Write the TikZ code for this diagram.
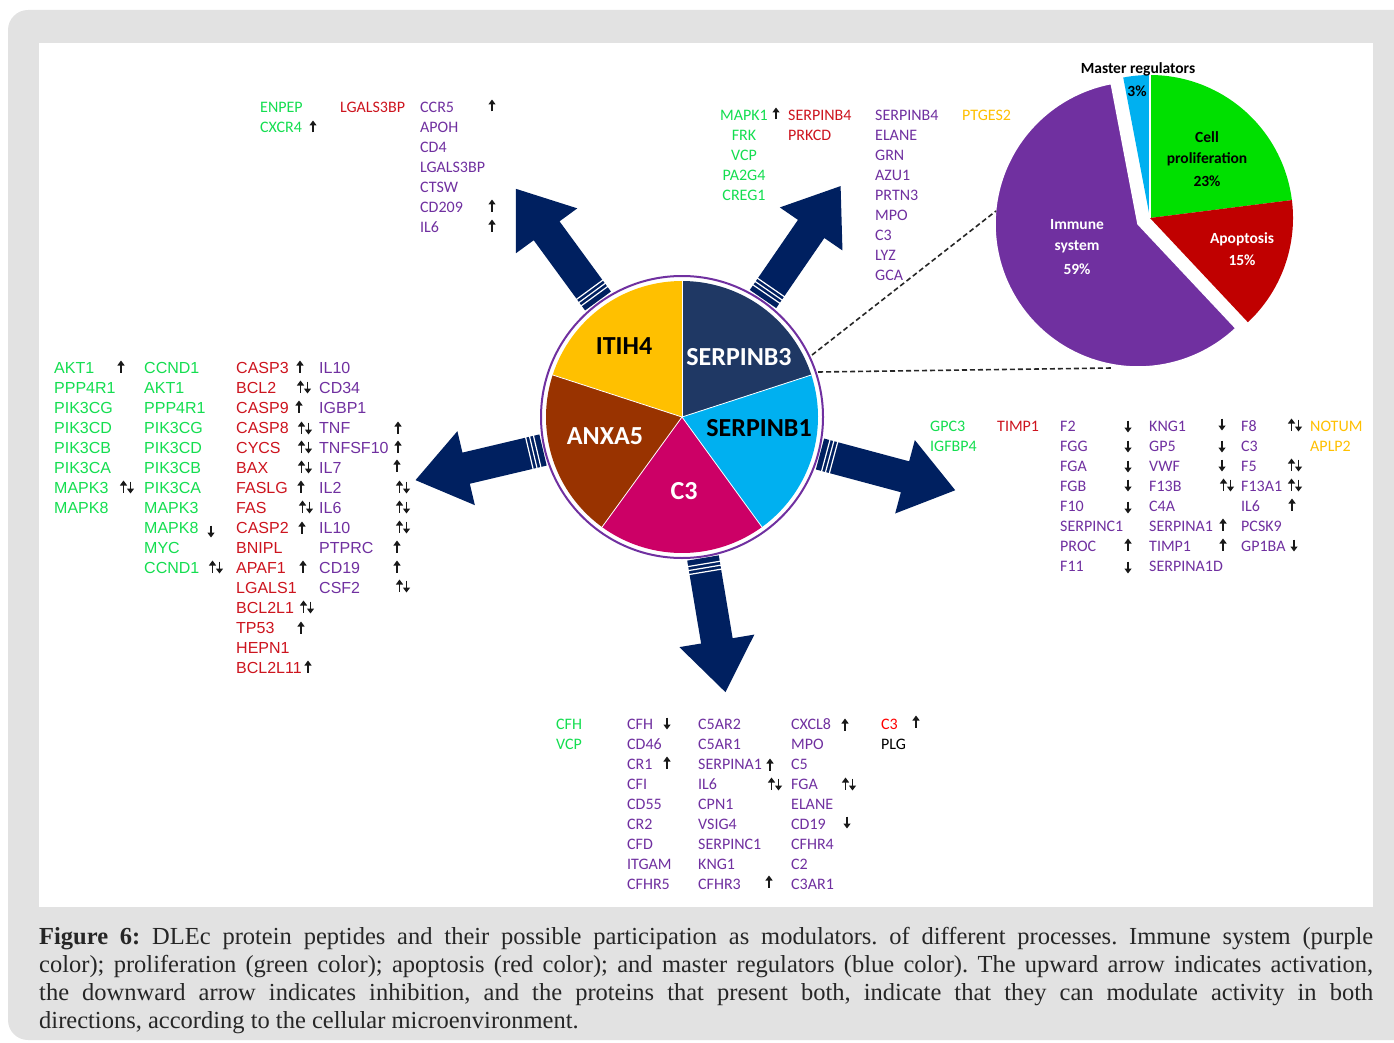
\documentclass[tikz,border=0pt]{standalone}
\usepackage{fontspec}
\usetikzlibrary{arrows.meta}
\setmainfont{Liberation Serif}
\newfontfamily\carl{Carlito}
\newfontfamily\libs{Liberation Sans}
\definecolor{panelgray}{RGB}{226,226,226}
\definecolor{cG}{RGB}{20,222,80}
\definecolor{cR}{RGB}{205,20,30}
\definecolor{cRb}{RGB}{255,0,0}
\definecolor{cP}{RGB}{112,48,160}
\definecolor{cO}{RGB}{255,192,0}
\definecolor{navyA}{RGB}{0,32,96}
\definecolor{sNavy}{RGB}{31,56,100}
\definecolor{sGold}{RGB}{255,192,0}
\definecolor{sBrown}{RGB}{153,51,0}
\definecolor{sMag}{RGB}{204,0,102}
\definecolor{sCyan}{RGB}{0,176,240}
\definecolor{pGreen}{RGB}{0,224,0}
\definecolor{pRed}{RGB}{192,0,0}
\definecolor{pPurple}{RGB}{112,48,160}
\definecolor{pBlue}{RGB}{0,176,240}
\newcommand\bigarrow[3]{%
\begin{scope}[shift={#1},rotate=#2]
\fill[navyA] (0,-16) -- ({#3-52},-16) -- ({#3-52},-38) -- (#3,0) -- ({#3-52},38) -- ({#3-52},16) -- (0,16) -- cycle;
\foreach \s in {6,10,14} \draw[white,line width=1.2pt] (\s,-17) -- (\s,17);
\end{scope}}
\frenchspacing
\begin{document}
\begin{tikzpicture}[x=1pt,y=-1pt,
  gw/.style={anchor=west,inner sep=0pt,font=\carl\fontsize{16}{16}\selectfont},
  gcen/.style={anchor=center,inner sep=0pt,font=\carl\fontsize{16}{16}\selectfont},
  lw/.style={anchor=west,inner sep=0pt,font=\libs\fontsize{16}{16}\selectfont},
  slab/.style={anchor=center,inner sep=0pt,font=\carl\bfseries\fontsize{26}{26}\selectfont},
  plab/.style={anchor=center,inner sep=0pt,font=\carl\bfseries\fontsize{15.5}{15.5}\selectfont},
  dashln/.style={black!85,line width=1.6pt,dash pattern=on 5pt off 3pt},
  captext/.style={anchor=base west,inner sep=0pt,text=black!85,font=\fontsize{24.5}{28}\selectfont},
  mkline/.style={line width=1.8pt,black!90,-{Triangle[length=5pt,width=7pt]}},
  mkU/.pic={\draw[mkline] (0,5.5) -- (0,-6.5);},
  mkD/.pic={\draw[mkline] (0,-5.5) -- (0,6.5);},
  mkB/.pic={\draw[mkline] (-3.5,5.5) -- (-3.5,-6.5); \draw[mkline] (3.5,-5.5) -- (3.5,6.5);}]
\useasboundingbox (0,0) rectangle (1394,1043);
\fill[panelgray,rounded corners=20pt] (8,10) rectangle (1430,1040);
\fill[white] (39,43) rectangle (1373,907);

% ---------- big arrows ----------
\bigarrow{(598,301)}{126.2}{139}
\bigarrow{(763,299)}{55.5}{137}
\bigarrow{(543,450)}{193.3}{131}
\bigarrow{(820,454)}{-15}{140}
\bigarrow{(703,558)}{-80.5}{136}

% ---------- central pie ----------
\fill[sNavy] (682,417) -- plot[domain=18:90,samples=50] ({682+136*cos(\x)},{417-136*sin(\x)}) -- cycle;
\fill[sGold] (682,417) -- plot[domain=90:162,samples=50] ({682+136*cos(\x)},{417-136*sin(\x)}) -- cycle;
\fill[sBrown] (682,417) -- plot[domain=162:234,samples=50] ({682+136*cos(\x)},{417-136*sin(\x)}) -- cycle;
\fill[sMag] (682,417) -- plot[domain=234:306,samples=50] ({682+136*cos(\x)},{417-136*sin(\x)}) -- cycle;
\fill[sCyan] (682,417) -- plot[domain=306:378,samples=50] ({682+136*cos(\x)},{417-136*sin(\x)}) -- cycle;
\foreach \a in {18,90,162,234,306} \draw[white,line width=0.8pt] (682,417) -- ({682+136*cos(\a)},{417-136*sin(\a)});
\draw[cP,line width=2pt] (682,417) circle[radius=141];
\node[slab,text=black] (itih4) at (624,346) {ITIH4};
\node[slab,text=white] (serpinb3) at (739,357) {SERPINB3};
\node[slab,text=black] (serpinb1) at (759,428) {SERPINB1};
\node[slab,text=white] (anxa5) at (605,436) {ANXA5};
\node[slab,text=white] (c3) at (684,491) {C3};

% ---------- process pie ----------
\fill[pGreen] (1150,218) -- plot[domain=7.2:90,samples=60] ({1150+143*cos(\x)},{218-143*sin(\x)}) -- cycle;
\fill[pBlue] (1150,218) -- plot[domain=90:100.8,samples=20] ({1150+143*cos(\x)},{218-143*sin(\x)}) -- cycle;
\fill[pRed] (1150,218) -- plot[domain=-46.8:7.2,samples=50] ({1150+143*cos(\x)},{218-143*sin(\x)}) -- cycle;
\filldraw[fill=pPurple,draw=white,line width=1.5pt] (1138,224) -- plot[domain=100.8:313.2,samples=120] ({1138+143*cos(\x)},{224-143*sin(\x)}) -- cycle;
\draw[white,line width=1.2pt] (1150,218) -- ({1150+143*cos(90)},{218-143*sin(90)});
\node[plab,text=black] (mreg) at (1138,69) {Master regulators};
\node[plab,text=black] (mreg3) at (1137,91) {3\%};
\node[plab,text=black] (cp1) at (1207,137) {Cell};
\node[plab,text=black] (cp2) at (1207,159) {proliferation};
\node[plab,text=black] (cp3) at (1207,181) {23\%};
\node[plab,text=white] (ap1) at (1242,239) {Apoptosis};
\node[plab,text=white] (ap2) at (1242,260) {15\%};
\node[plab,text=white] (im1) at (1077,225) {Immune};
\node[plab,text=white] (im2) at (1077,247) {system};
\node[plab,text=white] (im3) at (1077,269) {59\%};

% ---------- dashed connectors ----------
\coordinate (s3up) at (812,355);
\coordinate (pieup) at (996,211);
\coordinate (s3lo) at (818,372);
\coordinate (pielo) at (1112,368);
\draw[dashln] (s3up) -- (pieup);
\draw[dashln] (s3lo) -- (pielo);

% ---------- top-left lists ----------
\node[gw,text=cG] (tlg1) at (260,107) {ENPEP};
\node[gw,text=cG] (tlg2) at (260,127) {CXCR4};
\node[gw,text=cR] (tlr1) at (340,107) {LGALS3BP};
\foreach \t [count=\i from 0] in {CCR5,APOH,CD4,LGALS3BP,CTSW,CD209,IL6}
  \node[gw,text=cP] (tlp\i) at (420,{107+20*\i}) {\t};
\foreach \x/\y/\m [count=\i] in {313/127/U,492/106/U,492/206/U,492/226/U}
  \pic (tlm\i) at (\x,\y) {mk\m};

% ---------- top-centre lists ----------
\foreach \t [count=\i from 0] in {MAPK1,FRK,VCP,PA2G4,CREG1}
  \node[gcen,text=cG] (tcg\i) at (744,{115+20*\i}) {\t};
\node[gw,text=cR] (tcr1) at (788,115) {SERPINB4};
\node[gw,text=cR] (tcr2) at (788,135) {PRKCD};
\foreach \t [count=\i from 0] in {SERPINB4,ELANE,GRN,AZU1,PRTN3,MPO,C3,LYZ,GCA}
  \node[gw,text=cP] (tcp\i) at (875,{115+20*\i}) {\t};
\node[gw,text=cO] (tco1) at (962,115) {PTGES2};
\pic (tcm1) at (776,114) {mkU};

% ---------- left lists ----------
\foreach \t [count=\i from 0] in {AKT1,PPP4R1,PIK3CG,PIK3CD,PIK3CB,PIK3CA,MAPK3,MAPK8}
  \node[lw,text=cG] (lga\i) at (54,{368+20*\i}) {\t};
\foreach \t [count=\i from 0] in {CCND1,AKT1,PPP4R1,PIK3CG,PIK3CD,PIK3CB,PIK3CA,MAPK3,MAPK8,MYC,CCND1}
  \node[lw,text=cG] (lgb\i) at (144,{368+20*\i}) {\t};
\foreach \t [count=\i from 0] in {CASP3,BCL2,CASP9,CASP8,CYCS,BAX,FASLG,FAS,CASP2,BNIPL,APAF1,LGALS1,BCL2L1,TP53,HEPN1,BCL2L11}
  \node[lw,text=cR] (lr\i) at (236,{368+20*\i}) {\t};
\foreach \t [count=\i from 0] in {IL10,CD34,IGBP1,TNF,TNFSF10,IL7,IL2,IL6,IL10,PTPRC,CD19,CSF2}
  \node[lw,text=cP] (lp\i) at (319,{368+20*\i}) {\t};
\foreach \x/\y/\m [count=\i] in {121/367/U,127/487/B,211/531/D,216/567/B,
  300/367/U,304/387/B,299/407/U,305/428/B,305/447/B,305/467/B,301/487/U,306/507/B,302/528/U,303/567/U,307/607/B,301/628/U,308/667/U,
  398/428/U,398/447/U,397/466/U,403/487/B,403/507/B,403/527/B,397/547/U,397/567/U,403/586/B}
  \pic (lm\i) at (\x,\y) {mk\m};

% ---------- right lists ----------
\node[gw,text=cG] (rg1) at (930,426) {GPC3};
\node[gw,text=cG] (rg2) at (930,446) {IGFBP4};
\node[gw,text=cR] (rr1) at (997,426) {TIMP1};
\foreach \t [count=\i from 0] in {F2,FGG,FGA,FGB,F10,SERPINC1,PROC,F11}
  \node[gw,text=cP] (rpa\i) at (1060,{426+20*\i}) {\t};
\foreach \t [count=\i from 0] in {KNG1,GP5,VWF,F13B,C4A,SERPINA1,TIMP1,SERPINA1D}
  \node[gw,text=cP] (rpb\i) at (1149,{426+20*\i}) {\t};
\foreach \t [count=\i from 0] in {F8,C3,F5,F13A1,IL6,PCSK9,GP1BA}
  \node[gw,text=cP] (rpc\i) at (1241,{426+20*\i}) {\t};
\node[gw,text=cO] (ro1) at (1310,426) {NOTUM};
\node[gw,text=cO] (ro2) at (1310,446) {APLP2};
\foreach \x/\y/\m [count=\i] in {1128/426/D,1128/446/D,1128/466/D,1128/485/D,1128/507/D,1128/545/U,1128/567/D,
  1222/424/D,1222/446/D,1222/465/D,1227/485/B,1223/525/U,1223/545/U,
  1295/425/B,1295/465/B,1295/485/B,1292/505/U,1294/545/D}
  \pic (rm\i) at (\x,\y) {mk\m};

% ---------- bottom lists ----------
\node[gw,text=cG] (bg1) at (556,724) {CFH};
\node[gw,text=cG] (bg2) at (556,744) {VCP};
\foreach \t [count=\i from 0] in {CFH,CD46,CR1,CFI,CD55,CR2,CFD,ITGAM,CFHR5}
  \node[gw,text=cP] (bpa\i) at (627,{724+20*\i}) {\t};
\foreach \t [count=\i from 0] in {C5AR2,C5AR1,SERPINA1,IL6,CPN1,VSIG4,SERPINC1,KNG1,CFHR3}
  \node[gw,text=cP] (bpb\i) at (698,{724+20*\i}) {\t};
\foreach \t [count=\i from 0] in {CXCL8,MPO,C5,FGA,ELANE,CD19,CFHR4,C2,C3AR1}
  \node[gw,text=cP] (bpc\i) at (791,{724+20*\i}) {\t};
\node[gw,text=cRb] (br1) at (881,724) {C3};
\node[gw,text=black] (bk1) at (881,744) {PLG};
\foreach \x/\y/\m [count=\i] in {667/723/D,667/763/U,770/765/U,775/784/B,769/882/U,845/725/U,849/784/B,847/822/D,916/722/U}
  \pic (bm\i) at (\x,\y) {mk\m};

% ---------- caption ----------
\node[captext] (cap1) at (39,944) {\makebox[1334pt][s]{\textbf{Figure 6:} DLEc protein peptides and their possible participation as modulators. of different processes. Immune system (purple}};
\node[captext] (cap2) at (39,972) {\makebox[1334pt][s]{color); proliferation (green color); apoptosis (red color); and master regulators (blue color). The upward arrow indicates activation,}};
\node[captext] (cap3) at (39,1000) {\makebox[1334pt][s]{the downward arrow indicates inhibition, and the proteins that present both, indicate that they can modulate activity in both}};
\node[captext] (cap4) at (39,1028) {directions, according to the cellular microenvironment.};
\end{tikzpicture}
\end{document}
